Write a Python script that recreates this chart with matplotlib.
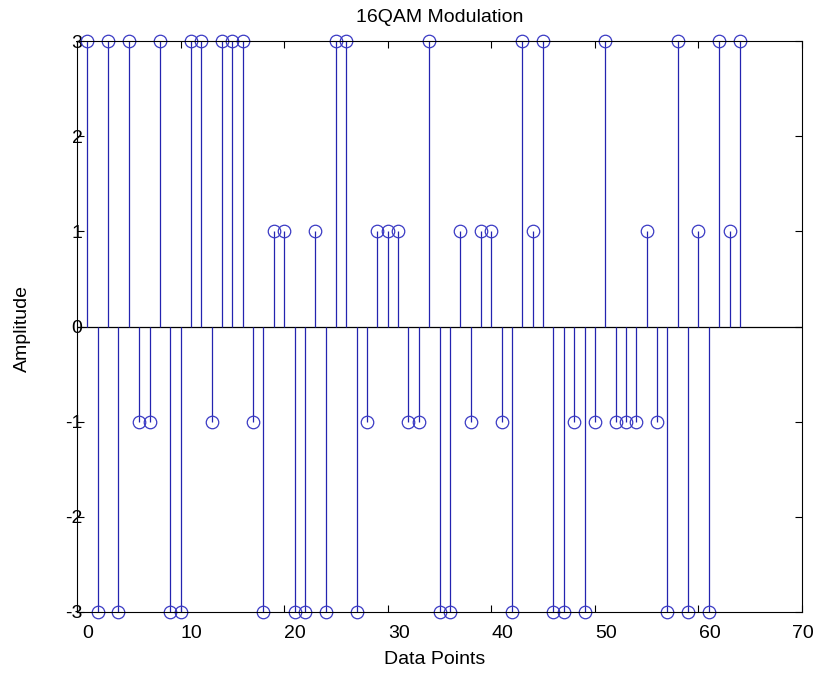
import numpy as np
import matplotlib
matplotlib.use("Agg")
import matplotlib.pyplot as plt
from matplotlib.transforms import ScaledTranslation

plt.rcParams['font.family'] = ['Liberation Sans', 'DejaVu Sans']
plt.rcParams['axes.unicode_minus'] = False

# symbol amplitudes, 64 data points (MATLAB style index 1..64)
amplitude = [3, -3, 3, -3, 3, -1, -1, 3, -3, -3,
             3, 3, -1, 3, 3, 3, -1, -3, 1, 1,
             -3, -3, 1, -3, 3, 3, -3, -1, 1, 1,
             1, -1, -1, 3, -3, -3, 1, -1, 1, 1,
             -1, -3, 3, 1, 3, -3, -3, -1, -3, -1,
             3, -1, -1, -1, 1, -1, -3, 3, -3, 1,
             -3, 3, 1, 3]
points = np.arange(1, len(amplitude) + 1)

x_ticks = [0, 10, 20, 30, 40, 50, 60, 70]
y_ticks = [-3, -2, -1, 0, 1, 2, 3]

STEM_COLOR = '#2424b0'
MARK_COLOR = '#3a3ac4'

fig = plt.figure(figsize=(8.15, 6.73), dpi=100)
ax = fig.add_axes([77/815, 61/673, 725/815, 571/673])

markerline, stemlines, baseline = ax.stem(points, amplitude, basefmt=' ')
stemlines.set_color(STEM_COLOR); stemlines.set_linewidth(0.9)
markerline.set_marker('o'); markerline.set_markersize(9)
markerline.set_markerfacecolor('none'); markerline.set_markeredgecolor(MARK_COLOR)
markerline.set_markeredgewidth(0.9); markerline.set_clip_on(False)
ax.axhline(0, color='k', linewidth=0.9, zorder=1)

ax.set_xlim(0, 70)
ax.set_ylim(-3, 3)
ax.set_xticks(x_ticks)
ax.set_yticks(y_ticks)
ax.tick_params(direction='in', top=True, right=True, length=5, width=0.8,
               labelsize=14)
ax.tick_params(axis='x', pad=9)
ax.tick_params(axis='y', pad=-4)
for s in ax.spines.values():
    s.set_linewidth(0.8)

# tick labels in the reference sit a little right of their ticks
for i, lab in enumerate(ax.get_xticklabels()):
    dx = 11 if x_ticks[i] < 70 else 1
    lab.set_transform(lab.get_transform() + ScaledTranslation(dx/100, 0, fig.dpi_scale_trans))

ax.set_title('16QAM Modulation', fontsize=14, y=(612-18)/571, va='center', pad=0)
ax.set_xlabel('Data Points', fontsize=14, va='center')
ax.xaxis.set_label_coords((435-77)/725, (612-660)/571)
ax.set_ylabel('Amplitude', fontsize=14, va='center')
ax.yaxis.set_label_coords((22-77)/725, (612-328)/571)

fig.savefig('out.png', dpi=100)
